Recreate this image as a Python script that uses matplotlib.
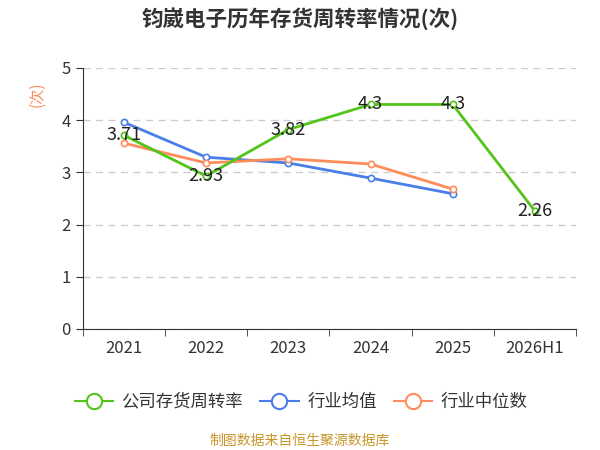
import numpy as np
import matplotlib.pyplot as plt
from matplotlib.lines import Line2D

plt.rcParams['font.family'] = ['Noto Sans CJK SC', 'DejaVu Sans']

years = ['2021', '2022', '2023', '2024', '2025', '2026H1']
company = [3.71, 2.93, 3.82, 4.3, 4.3, 2.26]
ind_mean = [3.96, 3.29, 3.18, 2.89, 2.59]
ind_median = [3.56, 3.18, 3.26, 3.16, 2.68]

green = '#52c41a'
blue = '#4a7ee8'
orange = '#ff8c5a'

fig = plt.figure(figsize=(6, 4.5), dpi=100)
ax = fig.add_axes([0.138, 0.269, 0.822, 0.58])

x = np.arange(len(years))
mk = dict(marker='o', markersize=4.5, markerfacecolor='white', markeredgewidth=1.2)
ax.plot(x, company, color=green, lw=2, zorder=4, **mk)
ax.plot(x[:len(ind_mean)], ind_mean, color=blue, lw=2, zorder=3, **mk)
ax.plot(x[:len(ind_median)], ind_median, color=orange, lw=2, zorder=3, **mk)

for xi, v in zip(x, company):
    ax.text(xi, v, f'{v:g}', ha='center', va='center', fontsize=13, color='#222222', zorder=5)

ax.set_xlim(-0.5, len(years) - 0.5)
ax.set_ylim(0, 5)
ax.set_yticks(range(6))
ax.set_xticks(x)
ax.set_xticklabels(years)
ax.set_xticks(np.arange(-0.5, len(years)), minor=True)
ax.tick_params(axis='x', which='major', length=0, pad=8, labelsize=12, labelcolor='#333333')
ax.tick_params(axis='x', which='minor', length=5, color='#333333')
ax.tick_params(axis='y', length=5, labelsize=12, labelcolor='#333333', color='#333333')
ax.grid(axis='y', linestyle=(0, (5, 4)), color='#cccccc', lw=1)
ax.set_axisbelow(True)
for s in ['top', 'right']:
    ax.spines[s].set_visible(False)
ax.spines['left'].set_color('#333333')
ax.spines['bottom'].set_color('#333333')

fig.text(0.062, 0.79, '(次)', rotation=90, color=orange, fontsize=11, ha='center', va='center')
fig.text(0.5, 0.958, '钧崴电子历年存货周转率情况(次)', ha='center', va='center',
         fontsize=15.5, fontweight='bold', color='#333333')

handles = [Line2D([], [], color=c, lw=1.5, marker='o', markersize=11,
                  markerfacecolor='white', markeredgewidth=1.5) for c in (green, blue, orange)]
labels = ['公司存货周转率', '行业均值', '行业中位数']
leg = fig.legend(handles, labels, loc='center', bbox_to_anchor=(0.502, 0.107), ncol=3,
                 frameon=False, fontsize=12.5, handlelength=2.2, columnspacing=1.0,
                 handletextpad=0.5)
for t in leg.get_texts():
    t.set_color('#333333')

fig.text(0.5, 0.02, '制图数据来自恒生聚源数据库', ha='center', va='center', fontsize=10, color='#c8962c')

fig.savefig('out.png', dpi=100)
